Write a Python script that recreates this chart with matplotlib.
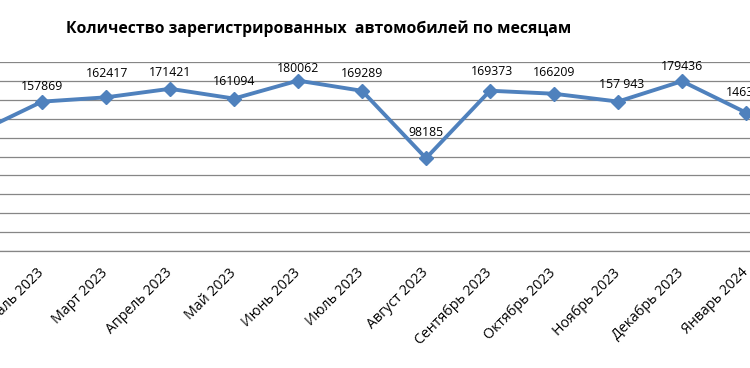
import matplotlib.pyplot as plt

months = ['Январь 2023', 'Февраль 2023', 'Март 2023', 'Апрель 2023', 'Май 2023', 'Июнь 2023',
          'Июль 2023', 'Август 2023', 'Сентябрь 2023', 'Октябрь 2023', 'Ноябрь 2023',
          'Декабрь 2023', 'Январь 2024']
cars = [125400, 157869, 162417, 171421, 161094, 180062, 169289, 98185,
        169373, 166209, 157943, 179436, 146300]
labels = ['125400', '157869', '162417', '171421', '161094', '180062', '169289', '98185',
          '169373', '166209', '157 943', '179436', '146300']

# label offsets from each point, in points
label_dy = [12, 11, 17, 11.5, 12.5, 8.5, 12.5, 18.5, 14, 15, 12, 10.5, 14.5]
label_dx = [0, 0, 1, 0, 0, 0, 0, 0, 1.5, 0, 2.5, 0, 1]

plt.rcParams['font.family'] = ['Open Sans', 'DejaVu Sans']

fig = plt.figure(figsize=(7.5, 3.68), dpi=100)
# plot area runs past both edges of the picture, like the cropped original
ax = fig.add_axes([-54 / 750, (368 - 251.3) / 368, 832 / 750, 189.6 / 368])

x = list(range(len(months)))
ax.plot(x, cars, color='#4F81BD', lw=2.8, marker='D', ms=7.5, mec='#4F81BD', mfc='#4F81BD',
        zorder=3, clip_on=False)

for i, v in enumerate(cars):
    ax.annotate(labels[i], (i, v), xytext=(label_dx[i], label_dy[i]), textcoords='offset points',
                ha='center', va='center', fontsize=8.8, color='black', annotation_clip=False)

ax.set_xlim(-0.5, len(months) - 0.5)
ax.set_ylim(0, 200000)
ax.set_yticks(range(0, 200001, 20000))
ax.yaxis.grid(True, color='#868686', lw=0.9)
ax.set_axisbelow(True)
ax.tick_params(axis='y', left=False, labelleft=False)
ax.tick_params(axis='x', length=0, pad=14)
ax.set_xticks(x)
ax.set_xticklabels(months, rotation=45, ha='right', va='center', rotation_mode='anchor', fontsize=10.2)
for s in ['top', 'left', 'right']:
    ax.spines[s].set_visible(False)
ax.spines['bottom'].set_color('#868686')
ax.spines['bottom'].set_linewidth(0.9)

fig.text(318.7 / 750, 1 - 29 / 368, 'Количество зарегистрированных  автомобилей по месяцам',
         ha='center', va='center', fontsize=11.3, fontweight='bold')

fig.savefig('out.png', dpi=100)
